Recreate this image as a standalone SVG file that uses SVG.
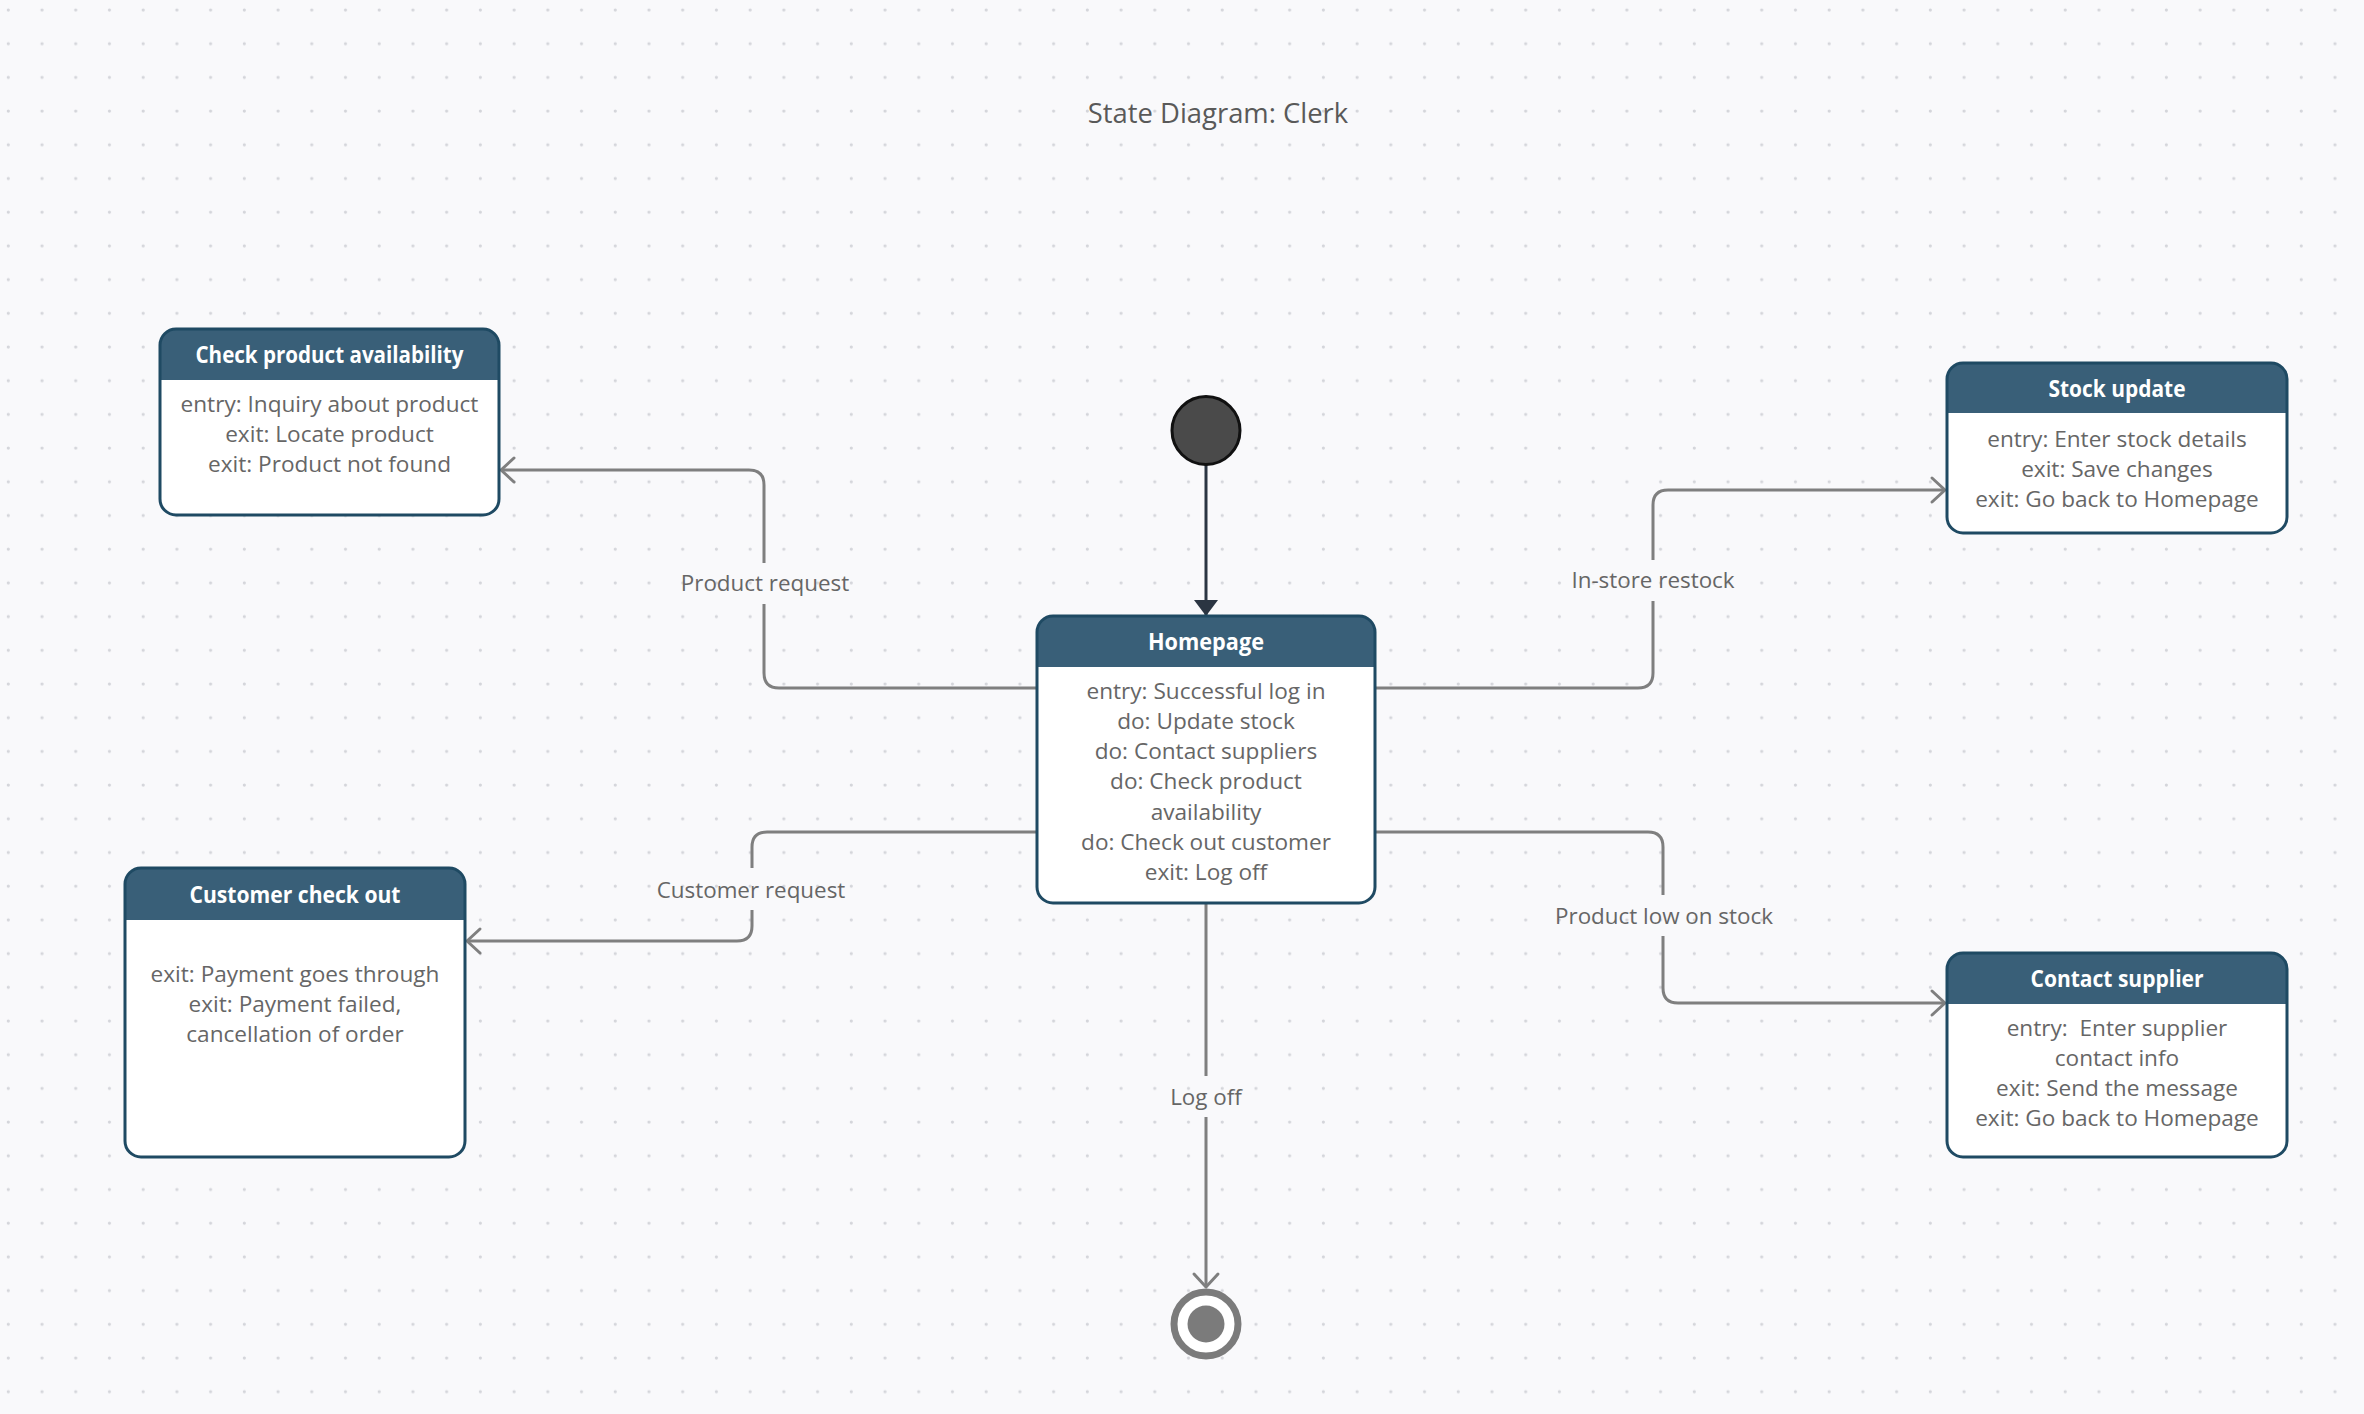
<svg xmlns="http://www.w3.org/2000/svg" width="2364" height="1414" viewBox="0 0 2364 1414">
<style>
.body{font-family:"Open Sans","Noto Sans","Liberation Sans",sans-serif;font-size:22.6px;fill:#666666;text-anchor:middle}
.lbl{font-family:"Open Sans","Noto Sans","Liberation Sans",sans-serif;font-size:22.4px;fill:#666666;text-anchor:middle}
.ttl{font-family:"Open Sans","Noto Sans","Liberation Sans",sans-serif;font-size:24px;font-weight:700;fill:#ffffff;text-anchor:middle}
.head{fill:#395f78}
.frame{fill:none;stroke:#1f4a63;stroke-width:3}
.card{fill:#ffffff}
.conn{fill:none;stroke:#7f7f7f;stroke-width:3}
</style>
<defs>
<pattern id="dots" x="0" y="0" width="33.72" height="33.7" patternUnits="userSpaceOnUse">
<circle cx="8.3" cy="10" r="1.6" fill="#d4d5da"/>
</pattern>
<marker id="open" viewBox="-16 -15 20 30" refX="0" refY="0" markerWidth="20" markerHeight="30" orient="auto" markerUnits="userSpaceOnUse">
<path d="M-13,-12 L0,0 L-13,12" fill="none" stroke="#7f7f7f" stroke-width="3" stroke-linecap="round" stroke-linejoin="round"/>
</marker>
<marker id="filled" viewBox="-18 -14 20 28" refX="0" refY="0" markerWidth="20" markerHeight="28" orient="auto" markerUnits="userSpaceOnUse">
<path d="M-16,-12 L0,0 L-16,12 Z" fill="#2b3542"/>
</marker>
</defs>
<rect x="0" y="0" width="2364" height="1414" fill="#f9f9fb"/>
<rect x="0" y="0" width="2364" height="1414" fill="url(#dots)"/>
<text x="1218" y="123" style="font-family:'Open Sans','Noto Sans','Liberation Sans',sans-serif;font-size:27.4px;fill:#595959;text-anchor:middle">State Diagram: Clerk</text>

<g id="connectors">
<path class="conn" d="M1037,688 H779 Q764,688 764,673 V604 M764,563 V485 Q764,470 749,470 H501" marker-end="url(#open)"/>
<path class="conn" d="M1375,688 H1638 Q1653,688 1653,673 V601 M1653,560 V505 Q1653,490 1668,490 H1945" marker-end="url(#open)"/>
<path class="conn" d="M1037,832 H767 Q752,832 752,847 V868 M752,910 V926 Q752,941 737,941 H467" marker-end="url(#open)"/>
<path class="conn" d="M1375,832 H1648 Q1663,832 1663,847 V895 M1663,936 V988 Q1663,1003 1678,1003 H1945" marker-end="url(#open)"/>
<path class="conn" d="M1206,903 V1076 M1206,1117 V1287" marker-end="url(#open)"/>
<path d="M1206,465 V616" fill="none" stroke="#2b3542" stroke-width="3" marker-end="url(#filled)"/>
<text class="lbl" x="765" y="591">Product request</text>
<text class="lbl" x="1653" y="588">In-store restock</text>
<text class="lbl" x="751" y="898">Customer request</text>
<text class="lbl" x="1664" y="924">Product low on stock</text>
<text class="lbl" x="1206" y="1105">Log off</text>
</g>

<g id="initial">
<circle cx="1206" cy="430.5" r="34" fill="#4a4a4a" stroke="#111111" stroke-width="3"/>
</g>

<g id="final">
<circle cx="1206" cy="1324" r="32" fill="#ffffff" stroke="#7b7b7b" stroke-width="7"/>
<circle cx="1206" cy="1324" r="18.5" fill="#7b7b7b"/>
</g>

<g id="check-product">
<rect class="card" x="160" y="329" width="339" height="186" rx="16"/>
<path class="head" d="M160,380 V345 A16,16 0 0 1 176,329 H483 A16,16 0 0 1 499,345 V380 Z"/>
<rect class="frame" x="160" y="329" width="339" height="186" rx="16"/>
<text class="ttl" x="329.5" y="363" textLength="268" lengthAdjust="spacingAndGlyphs">Check product availability</text>
<text class="body" x="329.5" y="412">entry: Inquiry about product</text>
<text class="body" x="329.5" y="442">exit: Locate product</text>
<text class="body" x="329.5" y="472">exit: Product not found</text>
</g>

<g id="homepage">
<rect class="card" x="1037" y="616" width="338" height="287" rx="16"/>
<path class="head" d="M1037,667 V632 A16,16 0 0 1 1053,616 H1359 A16,16 0 0 1 1375,632 V667 Z"/>
<rect class="frame" x="1037" y="616" width="338" height="287" rx="16"/>
<text class="ttl" x="1206" y="650" textLength="116" lengthAdjust="spacingAndGlyphs">Homepage</text>
<text class="body" x="1206" y="698.5">entry: Successful log in</text>
<text class="body" x="1206" y="728.8">do: Update stock</text>
<text class="body" x="1206" y="759.1">do: Contact suppliers</text>
<text class="body" x="1206" y="789.4">do: Check product</text>
<text class="body" x="1206" y="819.7">availability</text>
<text class="body" x="1206" y="850">do: Check out customer</text>
<text class="body" x="1206" y="880.3">exit: Log off</text>
</g>

<g id="stock-update">
<rect class="card" x="1947" y="363" width="340" height="170" rx="16"/>
<path class="head" d="M1947,413 V379 A16,16 0 0 1 1963,363 H2271 A16,16 0 0 1 2287,379 V413 Z"/>
<rect class="frame" x="1947" y="363" width="340" height="170" rx="16"/>
<text class="ttl" x="2117" y="397" textLength="137" lengthAdjust="spacingAndGlyphs">Stock update</text>
<text class="body" x="2117" y="447">entry: Enter stock details</text>
<text class="body" x="2117" y="477">exit: Save changes</text>
<text class="body" x="2117" y="507">exit: Go back to Homepage</text>
</g>

<g id="customer-check-out">
<rect class="card" x="125" y="868" width="340" height="289" rx="16"/>
<path class="head" d="M125,920 V884 A16,16 0 0 1 141,868 H449 A16,16 0 0 1 465,884 V920 Z"/>
<rect class="frame" x="125" y="868" width="340" height="289" rx="16"/>
<text class="ttl" x="295" y="903" textLength="211" lengthAdjust="spacingAndGlyphs">Customer check out</text>
<text class="body" x="295" y="982">exit: Payment goes through</text>
<text class="body" x="295" y="1012">exit: Payment failed,</text>
<text class="body" x="295" y="1042">cancellation of order</text>
</g>

<g id="contact-supplier">
<rect class="card" x="1947" y="953" width="340" height="204" rx="16"/>
<path class="head" d="M1947,1004 V969 A16,16 0 0 1 1963,953 H2271 A16,16 0 0 1 2287,969 V1004 Z"/>
<rect class="frame" x="1947" y="953" width="340" height="204" rx="16"/>
<text class="ttl" x="2117" y="987" textLength="173" lengthAdjust="spacingAndGlyphs">Contact supplier</text>
<text class="body" x="2117" y="1036" xml:space="preserve">entry:  Enter supplier</text>
<text class="body" x="2117" y="1066">contact info</text>
<text class="body" x="2117" y="1096">exit: Send the message</text>
<text class="body" x="2117" y="1126">exit: Go back to Homepage</text>
</g>
</svg>
